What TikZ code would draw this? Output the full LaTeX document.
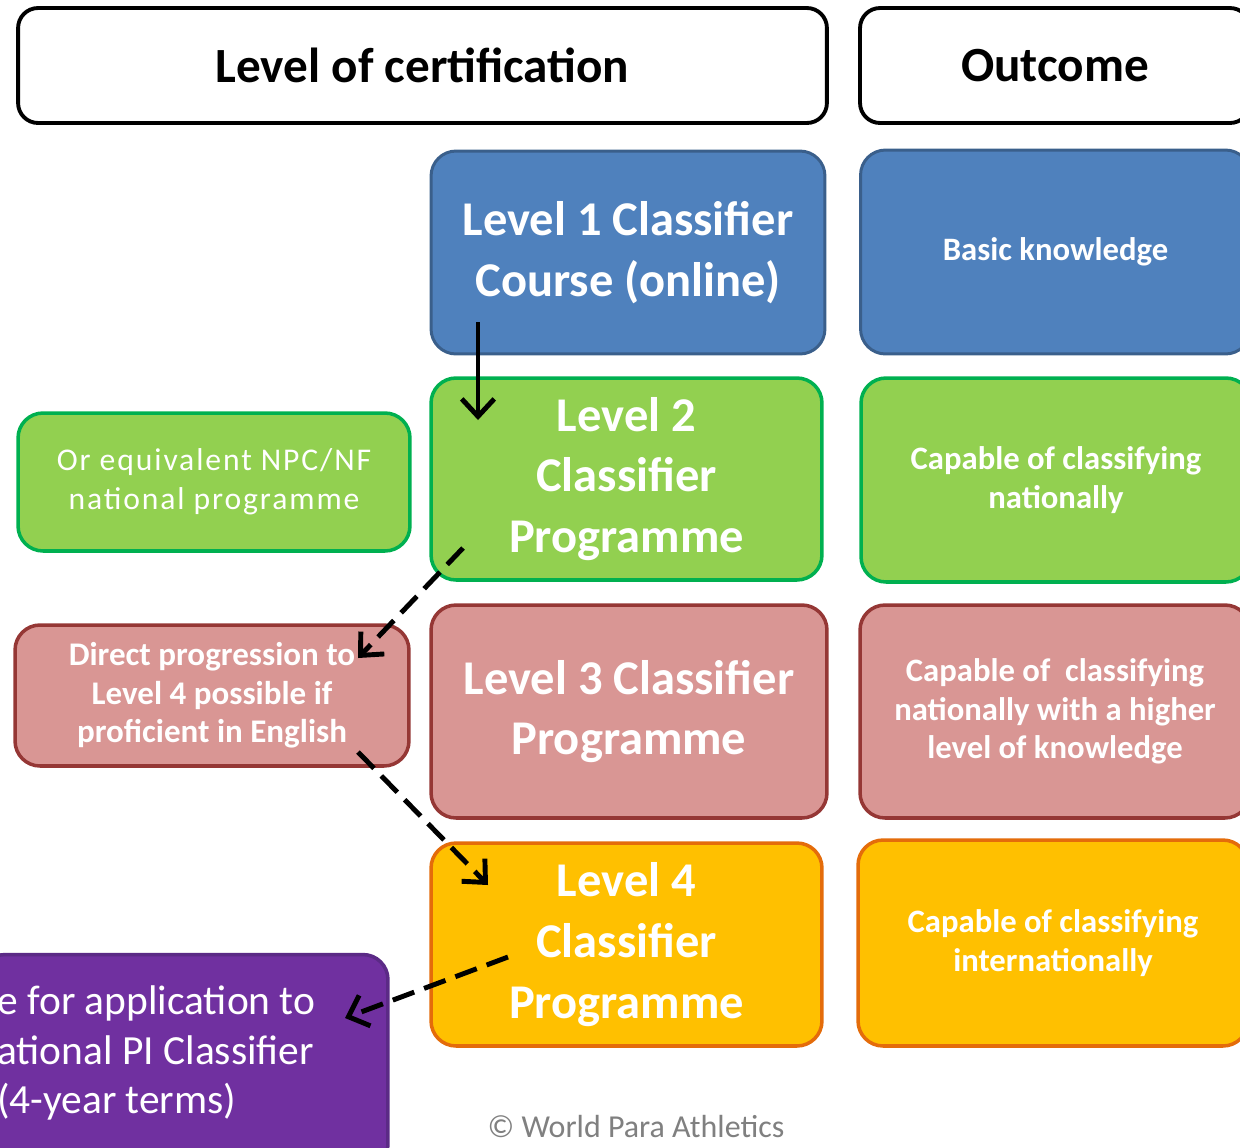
\documentclass[tikz,border=0pt]{standalone}
\usepackage{fontspec}
\setmainfont{Carlito}
\usetikzlibrary{arrows.meta}

\definecolor{blueFill}{HTML}{4F81BD}
\definecolor{blueLine}{HTML}{3A5F8B}
\definecolor{greenFill}{HTML}{92D050}
\definecolor{greenLine}{HTML}{00B050}
\definecolor{pinkFill}{HTML}{D99694}
\definecolor{pinkLine}{HTML}{953735}
\definecolor{orangeFill}{HTML}{FFC000}
\definecolor{orangeLine}{HTML}{E46C0A}
\definecolor{purpleFill}{HTML}{7030A0}
\definecolor{purpleLine}{HTML}{5B2A86}

\tikzset{
    box/.style={draw, rounded corners=0.5cm, line width=2pt, align=center, text=white, inner sep=0pt},
    headbox/.style={draw=black, rounded corners=0.4cm, line width=2.2pt, minimum height=2.3cm, inner sep=0pt,
        font=\fontsize{28}{34}\selectfont\bfseries},
    levelbox/.style={box, font=\fontsize{27.6}{34.6}\selectfont\bfseries},
    outbox/.style={box, minimum width=7.8cm, font=\fontsize{18.6}{22}\selectfont\bfseries},
    sidebox/.style={box, font=\fontsize{18.8}{22}\selectfont\bfseries},
    link/.style={line width=2.8pt, -{Straight Barb[length=3.5mm,width=6.5mm,line width=2.8pt]}},
    dashlink/.style={link, dash pattern=on 13pt off 6pt},
}

\begin{document}
\begin{tikzpicture}[x=0.02cm, y=-0.02cm]
    \useasboundingbox (0,0) rectangle (1240,1147);
    \clip (0,0) rectangle (1240,1147);

    % headers
    \node[headbox, minimum width=16.18cm] (cert) at (422.5,65.5) {Level of certification};
    \node[headbox, minimum width=7.8cm] (outcome) at (1055,65.5) {Outcome};

    % levels
    \node[levelbox, fill=blueFill, draw=blueLine, line width=1.7pt, minimum width=7.88cm, minimum height=4.06cm] (L1) at (628,252.5) {Level 1 Classifier\\Course (online)};
    \node[levelbox, fill=greenFill, draw=greenLine, minimum width=7.82cm, minimum height=4.04cm] (L2) at (626.5,479) {Level 2\\Classifier\\Programme};
    \node[levelbox, fill=pinkFill, draw=pinkLine, minimum width=7.92cm, minimum height=4.26cm] (L3) at (629,711.5) {Level 3 Classifier\\Programme};
    \node[levelbox, fill=orangeFill, draw=orangeLine, minimum width=7.82cm, minimum height=4.06cm] (L4) at (626.5,944.5) {Level 4\\Classifier\\Programme};

    % outcomes
    \node[outbox, fill=blueFill, draw=blueLine, line width=1.7pt, minimum height=4.08cm] (basic) at (1055.5,252) {Basic knowledge};
    \node[outbox, fill=greenFill, draw=greenLine, minimum height=4.08cm] (nat) at (1056,480) {Capable of classifying\\nationally};
    \node[outbox, fill=pinkFill, draw=pinkLine, minimum height=4.26cm] (higher) at (1055,711.5) {Capable of~ classifying\\nationally with a higher\\level of knowledge};
    \node[outbox, fill=orangeFill, draw=orangeLine, minimum height=4.12cm] (intl) at (1053,943) {Capable of classifying\\internationally};

    % side boxes
    \node[sidebox, fill=greenFill, draw=greenLine, minimum width=7.84cm, minimum height=2.76cm,
        font=\fontsize{18}{22}\selectfont\addfontfeature{LetterSpace=6}] (equiv) at (214,482) {Or equivalent NPC/NF\\national programme};
    \node[sidebox, fill=pinkFill, draw=pinkLine, minimum width=7.88cm, minimum height=2.82cm] (direct) at (212,695.5) {Direct progression to\\Level 4 possible if\\proficient in English};
    \node[box, fill=purpleFill, draw=purpleLine, minimum width=8.16cm, minimum height=4.3cm] (intlpanel) at (184,1062) {};
    \node[anchor=west, align=left, text=white, inner sep=0pt, font=\fontsize{23.6}{28.3}\selectfont] (intltext) at (-3,1053) {e for application to\\ational PI Classifier\\(4-year terms)};

    % credit
    \node[text=gray, font=\fontsize{18.2}{21}\selectfont] (credit) at (636,1126) {© World Para Athletics};

    % connectors
    \coordinate (a1) at (478,322);
    \coordinate (a2) at (478,420);
    \coordinate (b1) at (463,548);
    \coordinate (b2) at (358,658);
    \coordinate (c1) at (358,752);
    \coordinate (c2) at (488,885);
    \coordinate (d1) at (508,957);
    \coordinate (d2) at (345,1018);

    \draw[link] (a1) -- (a2);
    \draw[dashlink] (b1) -- (b2);
    \draw[dashlink] (c1) -- (c2);
    \draw[dashlink] (d1) -- (d2);
\end{tikzpicture}
\end{document}
